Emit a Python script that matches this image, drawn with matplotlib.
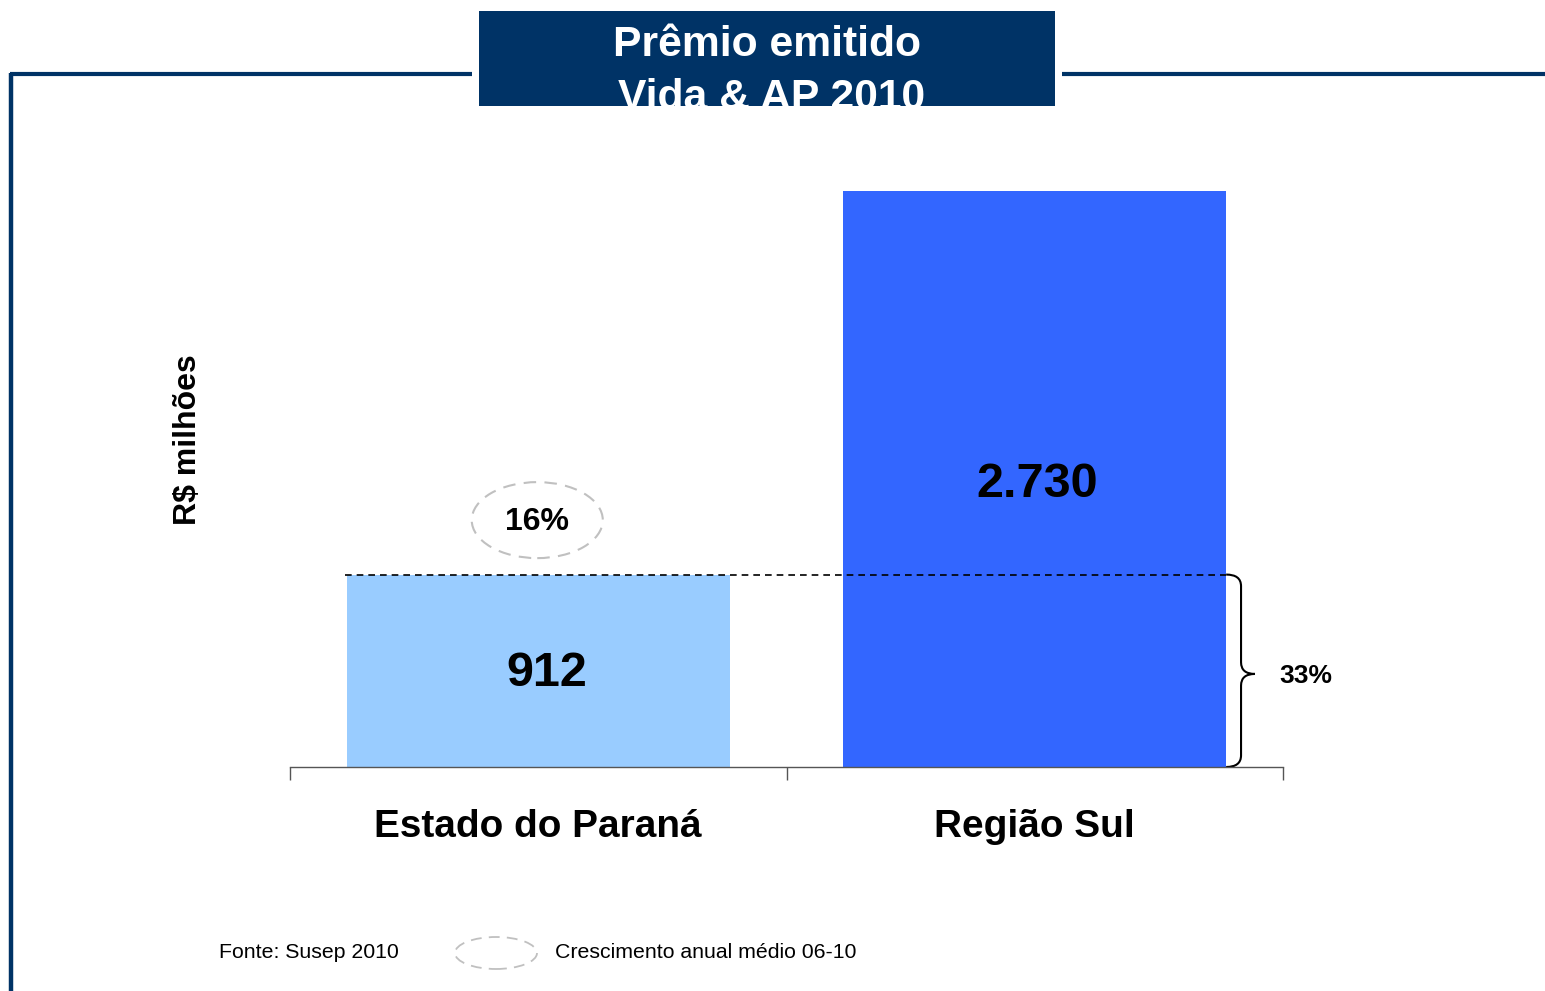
import matplotlib
matplotlib.use("Agg")
import matplotlib.pyplot as plt
from matplotlib.patches import Rectangle, Ellipse, PathPatch
from matplotlib.path import Path
from matplotlib.lines import Line2D

plt.rcParams['font.family'] = ['Liberation Sans', 'DejaVu Sans']

# Data
categories = ["Estado do Paraná", "Região Sul"]
values = [912, 2730]
value_labels = ["912", "2.730"]
bar_colors = ["#99CCFF", "#3366FF"]
growth_label = "16%"
share_label = "33%"

W, H = 1545, 991
fig = plt.figure(figsize=(W / 100, H / 100), dpi=100)
navy = "#003366"


def fx(px):
    return px / W


def fy(py):
    return 1 - py / H


# Frame lines
fig.add_artist(Line2D([fx(11), fx(11)], [fy(73), fy(991)], color=navy, lw=3.2,
                      solid_capstyle="butt", transform=fig.transFigure))
fig.add_artist(Line2D([fx(9.5), fx(472)], [fy(74), fy(74)], color=navy, lw=3,
                      solid_capstyle="butt", transform=fig.transFigure))
fig.add_artist(Line2D([fx(1062), fx(1545)], [fy(74), fy(74)], color=navy, lw=3,
                      solid_capstyle="butt", transform=fig.transFigure))

# Title box
box = Rectangle((fx(479), fy(106)), fx(1055) - fx(479), fy(11) - fy(106),
                facecolor=navy, edgecolor="none", transform=fig.transFigure)
fig.add_artist(box)
t1 = fig.text(fx(767), fy(45), "Prêmio emitido", color="white", fontsize=30.7,
              fontweight="bold", ha="center", va="center")
t2 = fig.text(fx(772), fy(98), "Vida & AP 2010", color="white", fontsize=30.7,
              fontweight="bold", ha="center", va="center")
for t in (t1, t2):
    t.set_clip_path(box)

# Axes
ax = fig.add_axes([fx(290), fy(767), fx(1283) - fx(290), (767 - 150) / H])
x = [0, 1]
bw = 0.771
ax.bar(x, values, width=bw, color=bar_colors, zorder=2)
ax.set_xlim(-0.5, 1.5)
ax.set_ylim(0, 2924)
for s in ("top", "right", "left"):
    ax.spines[s].set_visible(False)
ax.spines["bottom"].set_color("#555555")
ax.spines["bottom"].set_linewidth(1)
ax.set_yticks([])
ax.set_xticks([-0.5, 0.5, 1.5])
ax.set_xticklabels([])
ax.tick_params(axis="x", which="major", direction="out", length=9, width=1, color="#555555")
ax.set_xticks(x, minor=True)
ax.set_xticklabels(categories, minor=True, fontsize=27.9, fontweight="bold")
ax.tick_params(axis="x", which="minor", length=0, pad=30)

# Value labels
ax.text(0.017, values[0] / 2 - 14, value_labels[0], ha="center", va="center",
        fontsize=35, fontweight="bold")
ax.text(1.005, 1340, value_labels[1], ha="center", va="center",
        fontsize=35, fontweight="bold")

# Dashed reference line
ax.plot([-0.39, 1 + bw / 2], [values[0], values[0]], color="black", lw=1.2,
        ls=(0, (4, 3)), zorder=3)

# Growth ellipse
ax.add_patch(Ellipse((-0.002, 1170), 0.264, 76 * 2730 / 576, fill=False,
                     edgecolor="#C0C0C0", lw=1.5, ls=(0, (6, 4))))
ax.text(-0.002, 1160, growth_label, ha="center", va="center", fontsize=23, fontweight="bold")

# Brace
x0 = 1 + bw / 2
x1 = x0 + 0.03
xt = x0 + 0.058
ytop, ybot = values[0], 0
ymid = (ytop + ybot) / 2 - 15
r = 55
verts = [(x0, ytop), (x1, ytop), (x1, ytop - r),
         (x1, ymid + r),
         (x1, ymid), (xt, ymid),
         (x1, ymid), (x1, ymid - r),
         (x1, ybot + r),
         (x1, ybot), (x0, ybot)]
codes = [Path.MOVETO, Path.CURVE3, Path.CURVE3,
         Path.LINETO,
         Path.CURVE3, Path.CURVE3,
         Path.CURVE3, Path.CURVE3,
         Path.LINETO,
         Path.CURVE3, Path.CURVE3]
ax.add_patch(PathPatch(Path(verts, codes), fill=False, edgecolor="black", lw=1.5, clip_on=False))
ax.text(xt + 0.05, ymid - 10, share_label, ha="left", va="center", fontsize=19,
        fontweight="bold", clip_on=False)

# Y label
fig.text(fx(188), fy(440), "R$ milhões", rotation=90, ha="center", va="center",
         fontsize=23, fontweight="bold")

# Footer
fig.text(fx(219), fy(953), "Fonte: Susep 2010", ha="left", va="center", fontsize=15.3)
fig.add_artist(Ellipse((fx(496), fy(953)), fx(82), 32 / H, fill=False,
                       edgecolor="#C0C0C0", lw=1.3, ls=(0, (6, 4)), transform=fig.transFigure))
fig.text(fx(555), fy(953), "Crescimento anual médio 06-10", ha="left", va="center", fontsize=15.3)

fig.savefig("out.png", dpi=100)
